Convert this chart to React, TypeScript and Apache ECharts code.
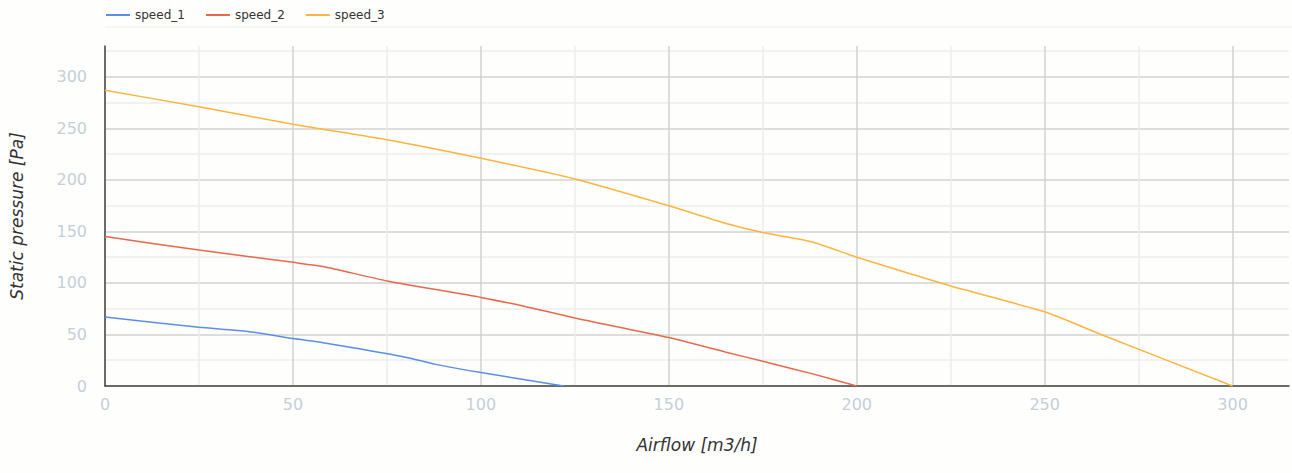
import React, { useEffect, useRef } from "react";
import * as echarts from "echarts";

const seriesNames = ["speed_1", "speed_2", "speed_3"];
const speed1: [number, number][] = [
  [0, 67], [25, 57], [38, 53], [50, 46], [58, 42], [80, 28], [88, 21], [100, 13], [122, 0],
];
const speed2: [number, number][] = [
  [0, 145], [25, 132], [50, 120], [58, 116], [75, 102], [100, 86], [112, 77], [125, 66],
  [150, 47], [165, 33], [175, 24], [188, 12], [200, 0],
];
const speed3: [number, number][] = [
  [0, 287], [25, 271], [50, 254], [75, 239], [100, 221], [125, 201], [150, 175], [165, 158],
  [175, 149], [188, 140], [200, 125], [225, 97], [250, 72], [265, 50], [300, 0],
];
const colors = ["#5b8ee6", "#e8684a", "#fdb440"];
const xName = "Airflow [m3/h]";
const yName = "Static pressure [Pa]";

const FONT = "DejaVu Sans";

export default function App() {
  const ref = useRef<HTMLDivElement>(null);
  useEffect(() => {
    if (!ref.current) return;
    const chart = echarts.init(ref.current, null, { renderer: "svg" });
    const labelFmt = (v: number) => (v % 50 === 0 ? String(v) : "");
    chart.setOption({
      animation: false,
      backgroundColor: "#fefefd",
      textStyle: { fontFamily: FONT },
      legend: {
        left: 105,
        top: 9,
        padding: 0,
        itemWidth: 24,
        itemHeight: 14,
        itemGap: 20,
        itemStyle: { opacity: 0 },
        lineStyle: { width: 2 },
        textStyle: { fontSize: 12, color: "#333", fontFamily: FONT },
        data: seriesNames,
      },
      graphic: [
        {
          type: "line",
          shape: { x1: 105, y1: 27, x2: 1292, y2: 27 },
          style: { stroke: "#ececec", lineWidth: 1 },
          silent: true,
        },
      ],
      grid: { left: 105, right: 1, top: 46, bottom: 87, containLabel: false },
      xAxis: {
        type: "value",
        min: 0,
        max: 315,
        interval: 25,
        name: xName,
        nameLocation: "middle",
        nameGap: 50,
        nameTextStyle: { fontSize: 17, fontStyle: "italic", color: "#333", fontFamily: FONT },
        axisLine: { show: true, onZero: false, lineStyle: { color: "#444", width: 1.5 } },
        axisTick: { show: false },
        axisLabel: { formatter: labelFmt, fontSize: 16, color: "#c5cfd9", margin: 10, fontFamily: FONT },
        splitLine: {
          show: true,
          showMaxLine: false,
          lineStyle: { color: ["#d2d2d2", "#ececec"], width: 1.5 },
        },
      },
      yAxis: {
        type: "value",
        min: 0,
        max: 330,
        interval: 25,
        name: yName,
        nameLocation: "middle",
        nameGap: 80,
        nameTextStyle: { fontSize: 17, fontStyle: "italic", color: "#333", fontFamily: FONT },
        axisLine: { show: true, onZero: false, lineStyle: { color: "#444", width: 1.5 } },
        axisTick: { show: false },
        axisLabel: { formatter: labelFmt, fontSize: 16, color: "#c5cfd9", margin: 18, fontFamily: FONT },
        splitLine: {
          show: true,
          showMaxLine: false,
          lineStyle: { color: ["#d2d2d2", "#ececec"], width: 1.5 },
        },
      },
      series: [speed1, speed2, speed3].map((d, i) => ({
        name: seriesNames[i],
        type: "line",
        data: d,
        symbol: "none",
        showSymbol: false,
        smooth: 0.2,
        color: colors[i],
        lineStyle: { color: colors[i], width: 1.5 },
      })),
    });
    return () => chart.dispose();
  }, []);
  return (
    <div
      ref={ref}
      style={{ position: "fixed", left: 0, top: 0, width: 1292, height: 473 }}
    />
  );
}
